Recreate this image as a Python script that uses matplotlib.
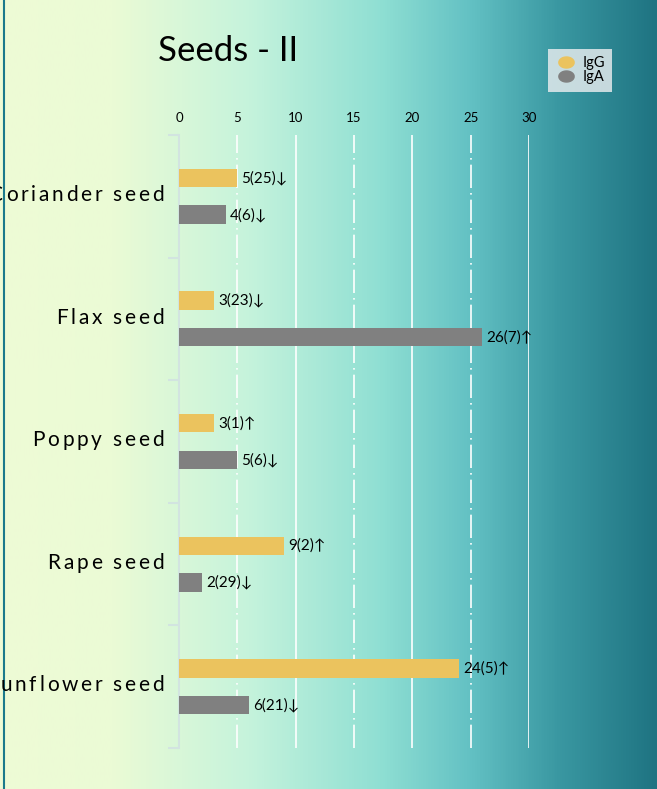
import matplotlib.pyplot as plt
import numpy as np
from matplotlib.colors import LinearSegmentedColormap
from matplotlib.lines import Line2D
from matplotlib.font_manager import FontProperties
from matplotlib.textpath import TextToPath

# Seed panel values (scores and ranks in brackets)
seeds = ['Coriander seed', 'Flax seed', 'Poppy seed', 'Rape seed', 'Sunflower seed']
igg = [5, 3, 3, 9, 24]
iga = [4, 26, 5, 2, 6]
igg_labels = ['5(25)↓', '3(23)↓', '3(1)↑', '9(2)↑', '24(5)↑']
iga_labels = ['4(6)↓', '26(7)↑', '5(6)↓', '2(29)↓', '6(21)↓']
xticks = [0, 5, 10, 15, 20, 25, 30]

gold = '#ebc35e'
grey = '#808080'

fig = plt.figure(figsize=(6.57, 7.89), dpi=100)

# background wash, pale green on the left to dark teal on the right
bg = fig.add_axes([0, 0, 1, 1], zorder=-10)
cmap = LinearSegmentedColormap.from_list('wash', [
    (0.0, '#eefbd6'), (0.17, '#ebfbd5'), (0.38, '#c5f3dc'),
    (0.58, '#8fdfd3'), (0.72, '#62c0c3'), (0.85, '#3a98a2'), (1.0, '#1f7482')])
bg.imshow(np.linspace(0, 1, 512)[None, :], aspect='auto', cmap=cmap,
          extent=[0, 1, 0, 1])
bg.axvline(0.0068, color='#1b7a8c', lw=1.5)
bg.set_xlim(0, 1)
bg.set_ylim(0, 1)
bg.axis('off')

ax = fig.add_axes([179/657, 1-748/789, 350/657, 613/789])
ax.patch.set_alpha(0)
y = np.arange(len(seeds))
h = 0.15
ax.barh(y - 0.15, igg, height=h, color=gold, label='IgG', zorder=3)
ax.barh(y + 0.15, iga, height=h, color=grey, label='IgA', zorder=3)

lab_font = ['Lato', 'DejaVu Sans']
for i in range(len(seeds)):
    ax.annotate(igg_labels[i], (igg[i], y[i] - 0.15), xytext=(3, 0),
                textcoords='offset points', va='center', ha='left',
                fontsize=11, family=lab_font, zorder=4)
    ax.annotate(iga_labels[i], (iga[i], y[i] + 0.15), xytext=(3, 0),
                textcoords='offset points', va='center', ha='left',
                fontsize=11, family=lab_font, zorder=4)

ax.set_xlim(0, 30)
ax.set_ylim(4.5, -0.5)
for v in xticks[1:]:
    ls = (0, (14, 3, 1, 3)) if v % 10 else '-'
    ax.axvline(v, color='white', lw=1.2, ls=ls, zorder=1)

ax.xaxis.tick_top()
ax.set_xticks(xticks)
ax.tick_params(axis='x', length=0, pad=8, labelsize=9.5)
for t in ax.get_xticklabels():
    t.set_family('Lato')

ax.set_yticks(y)
ax.set_yticklabels([])
ax.tick_params(axis='y', which='major', length=0)
ax.set_yticks(np.arange(-0.5, 5, 1), minor=True)
ax.tick_params(axis='y', which='minor', length=8, color='#d2e4e0', width=1.5)
for s in ['top', 'right', 'bottom']:
    ax.spines[s].set_visible(False)
ax.spines['left'].set_color('#d2e4e0')
ax.spines['left'].set_linewidth(1.5)

# category names with wide letter spacing, right aligned next to the axis
prop = FontProperties(family='Lato', size=15)
ttp = TextToPath()
spacing = 2.0  # points between letters
for i, name in enumerate(seeds):
    widths = [ttp.get_text_width_height_descent(name[:k], prop, ismath=False)[0]
              for k in range(len(name) + 1)]
    total = widths[-1] + spacing * (len(name) - 1)
    for k, ch in enumerate(name):
        dx = -11 - total + widths[k] + spacing * k
        ax.annotate(ch, (0, y[i]), xytext=(dx, 1), textcoords='offset points',
                    ha='left', va='center', fontproperties=prop,
                    annotation_clip=False)

fig.text(158/657, 1-51/789, 'Seeds - II', fontsize=25, family='Lato',
         va='center', ha='left')

# slightly flattened round markers for the legend
t = np.linspace(0, 2 * np.pi, 40)
blob = list(zip(np.cos(t), 0.72 * np.sin(t)))
handles = [Line2D([], [], marker=blob, ls='', color=gold, markersize=11),
           Line2D([], [], marker=blob, ls='', color=grey, markersize=11)]
leg = fig.legend(handles, ['IgG', 'IgA'], loc='upper left',
                 bbox_to_anchor=(548/657, 1-49/789), borderaxespad=0,
                 frameon=True, prop={'family': 'Lato', 'size': 10.5},
                 handletextpad=0.45, labelspacing=0.0, borderpad=0.5,
                 handlelength=1.4)
leg.get_frame().set_facecolor('#eeeff1')
leg.get_frame().set_edgecolor('none')
leg.get_frame().set_boxstyle('square', pad=0)

fig.savefig('out.png', dpi=100)
